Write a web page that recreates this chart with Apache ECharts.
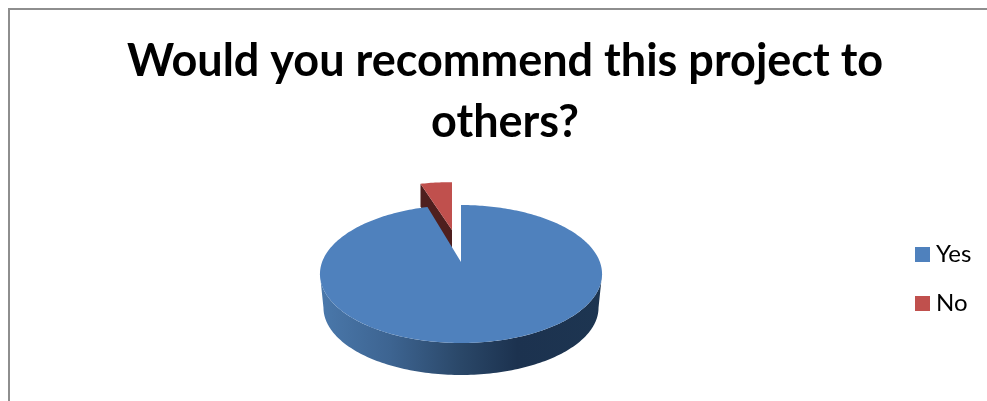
<!DOCTYPE html>
<html><head><meta charset="utf-8">
<style>html,body{margin:0;padding:0;background:#fff}#c{width:987px;height:401px}</style>
<script src="https://cdn.jsdelivr.net/npm/echarts@6/dist/echarts.min.js"></script>
</head><body><div id="c"></div>
<script>
const categories = ['Yes', 'No'];
const values = [21, 1];
const titleText = 'Would you recommend this project to\nothers?';
const total = values.reduce((a, b) => a + b, 0);

const R = 138.9, RY = 66.9, P = 0.174;
function proj(a, ax, ay, s, sy) {       // a = clockwise angle from 12 o'clock
  const u = Math.sin(a), v = -Math.cos(a), w = 1 - P * v;
  return [ax + s * R * u / w, ay + (sy === undefined ? s : sy) * RY * v / w];
}
function arcPts(a0, a1, ax, ay, s, sy) {
  const n = Math.max(2, Math.ceil(Math.abs(a1 - a0) / 0.02)), pts = [];
  for (let i = 0; i <= n; i++) pts.push(proj(a0 + (a1 - a0) * i / n, ax, ay, s, sy));
  return pts;
}
const poly = (points, fill) => ({ type: 'polygon', shape: { points }, style: { fill }, silent: true });
const hgrad = stops => ({ type: 'linear', x: 0, y: 0, x2: 1, y2: 0,
  colorStops: stops.map(s => ({ offset: s[0], color: s[1] })) });

function yesItem(params, api) {
  const share = api.value(0) / total, a0 = 0, a1 = share * 2 * Math.PI;
  const AX = 461, AY = 262, DEPTH = 34, INSET = 0.975, W = Math.asin(P);
  const top = arcPts(Math.PI / 2 + W, Math.PI * 1.5 - W, AX, AY, 1);
  const bot = arcPts(Math.PI * 1.5 - W, Math.PI / 2 + W, AX, AY + DEPTH, INSET);
  return { type: 'group', silent: true, children: [
    poly(top.concat(bot), hgrad([[0, '#4a78ab'], [0.25, '#3d6491'], [0.5, '#2a4768'], [0.7, '#1c324f'], [1, '#1d3551']])),
    poly(arcPts(a0, a1, AX, AY, 1).concat([[AX, AY]]), '#4f81bd')
  ]};
}
function noItem(params, api) {
  const share = api.value(0) / total, a0 = -share * 2 * Math.PI, a1 = 0;
  const AX = 452, AY = 230, SX = 0.94, SY = 0.84, DL = 23, DR = 18;
  const arc = arcPts(a0, a1, AX, AY, SX, SY), left = arc[0];
  return { type: 'group', silent: true, children: [
    poly([left, [left[0], left[1] + DL], [AX, AY + DR], [AX, AY]], '#4f1f1e'),
    poly(arc.concat([[AX, AY]]), '#c0504d')
  ]};
}
const chart = echarts.init(document.getElementById('c'));
chart.setOption({
  animation: false,
  backgroundColor: '#fff',
  title: { text: titleText, left: 500, top: 26, textAlign: 'center',
    textStyle: { fontFamily: 'Lato', fontWeight: 'bold', fontSize: 45, lineHeight: 61, color: '#000' } },
  legend: { data: categories, orient: 'vertical', left: 910, top: 237, itemWidth: 15, itemHeight: 15, itemGap: 24,
    icon: 'rect', textStyle: { fontFamily: 'Lato', fontSize: 24, lineHeight: 25, color: '#000', padding: [0, 0, 0, 1] } },
  graphic: [{ type: 'rect', silent: true, z: -1, shape: { x: 9, y: 9, width: 1000, height: 500 },
    style: { fill: 'none', stroke: '#8e8e8e', lineWidth: 2 } }],
  series: [
    { type: 'custom', name: categories[0], coordinateSystem: 'none', itemStyle: { color: '#4f81bd' },
      data: [[values[0]]], renderItem: yesItem, z: 2 },
    { type: 'custom', name: categories[1], coordinateSystem: 'none', itemStyle: { color: '#c0504d' },
      data: [[values[1]]], renderItem: noItem, z: 1 }
  ]
});
</script></body></html>
